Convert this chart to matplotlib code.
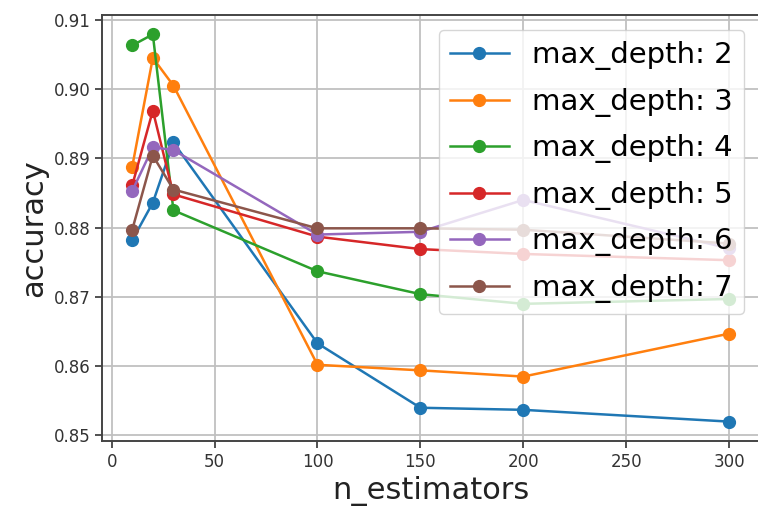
import matplotlib
matplotlib.use("Agg")
import matplotlib.pyplot as plt

n_estimators = [10, 20, 30, 100, 150, 200, 300]
depths = [2, 3, 4, 5, 6, 7]
acc_d2 = [0.8782, 0.8836, 0.8923, 0.8633, 0.8540, 0.8537, 0.8520]
acc_d3 = [0.8888, 0.9045, 0.9005, 0.8602, 0.8594, 0.8585, 0.8647]
acc_d4 = [0.9063, 0.9079, 0.8825, 0.8737, 0.8704, 0.8690, 0.8697]
acc_d5 = [0.8861, 0.8969, 0.8848, 0.8787, 0.8769, 0.8762, 0.8753]
acc_d6 = [0.8853, 0.8916, 0.8912, 0.8790, 0.8794, 0.8840, 0.8770]
acc_d7 = [0.8797, 0.8904, 0.8855, 0.8799, 0.8799, 0.8797, 0.8777]
series = [acc_d2, acc_d3, acc_d4, acc_d5, acc_d6, acc_d7]

fig = plt.figure(figsize=(7.58, 5.13), dpi=100)
ax = fig.add_axes([0.1351, 0.1404, 0.8662, 0.8304])

for d, vals in zip(depths, series):
    ax.plot(n_estimators, vals, marker='o', markersize=8.5, linewidth=1.8,
            label=f"max_depth: {d}")

ax.grid(True, color='#c0c0c0', linewidth=1.3)
ax.tick_params(labelsize=12, colors='#333333', labelcolor='#333333', width=1.2, length=5)
for s in ax.spines.values():
    s.set_color('#444444')
    s.set_linewidth(1.4)
ax.set_xlabel("n_estimators", fontsize=22, color='#222222')
ax.set_ylabel("accuracy", fontsize=22, color='#222222')
ax.set_xticks([0, 50, 100, 150, 200, 250, 300])
ax.set_yticks([0.85, 0.86, 0.87, 0.88, 0.89, 0.90, 0.91])
ax.legend(loc='upper right', fontsize=21, framealpha=0.8, labelspacing=0.6)

fig.savefig("out.png", dpi=100)
